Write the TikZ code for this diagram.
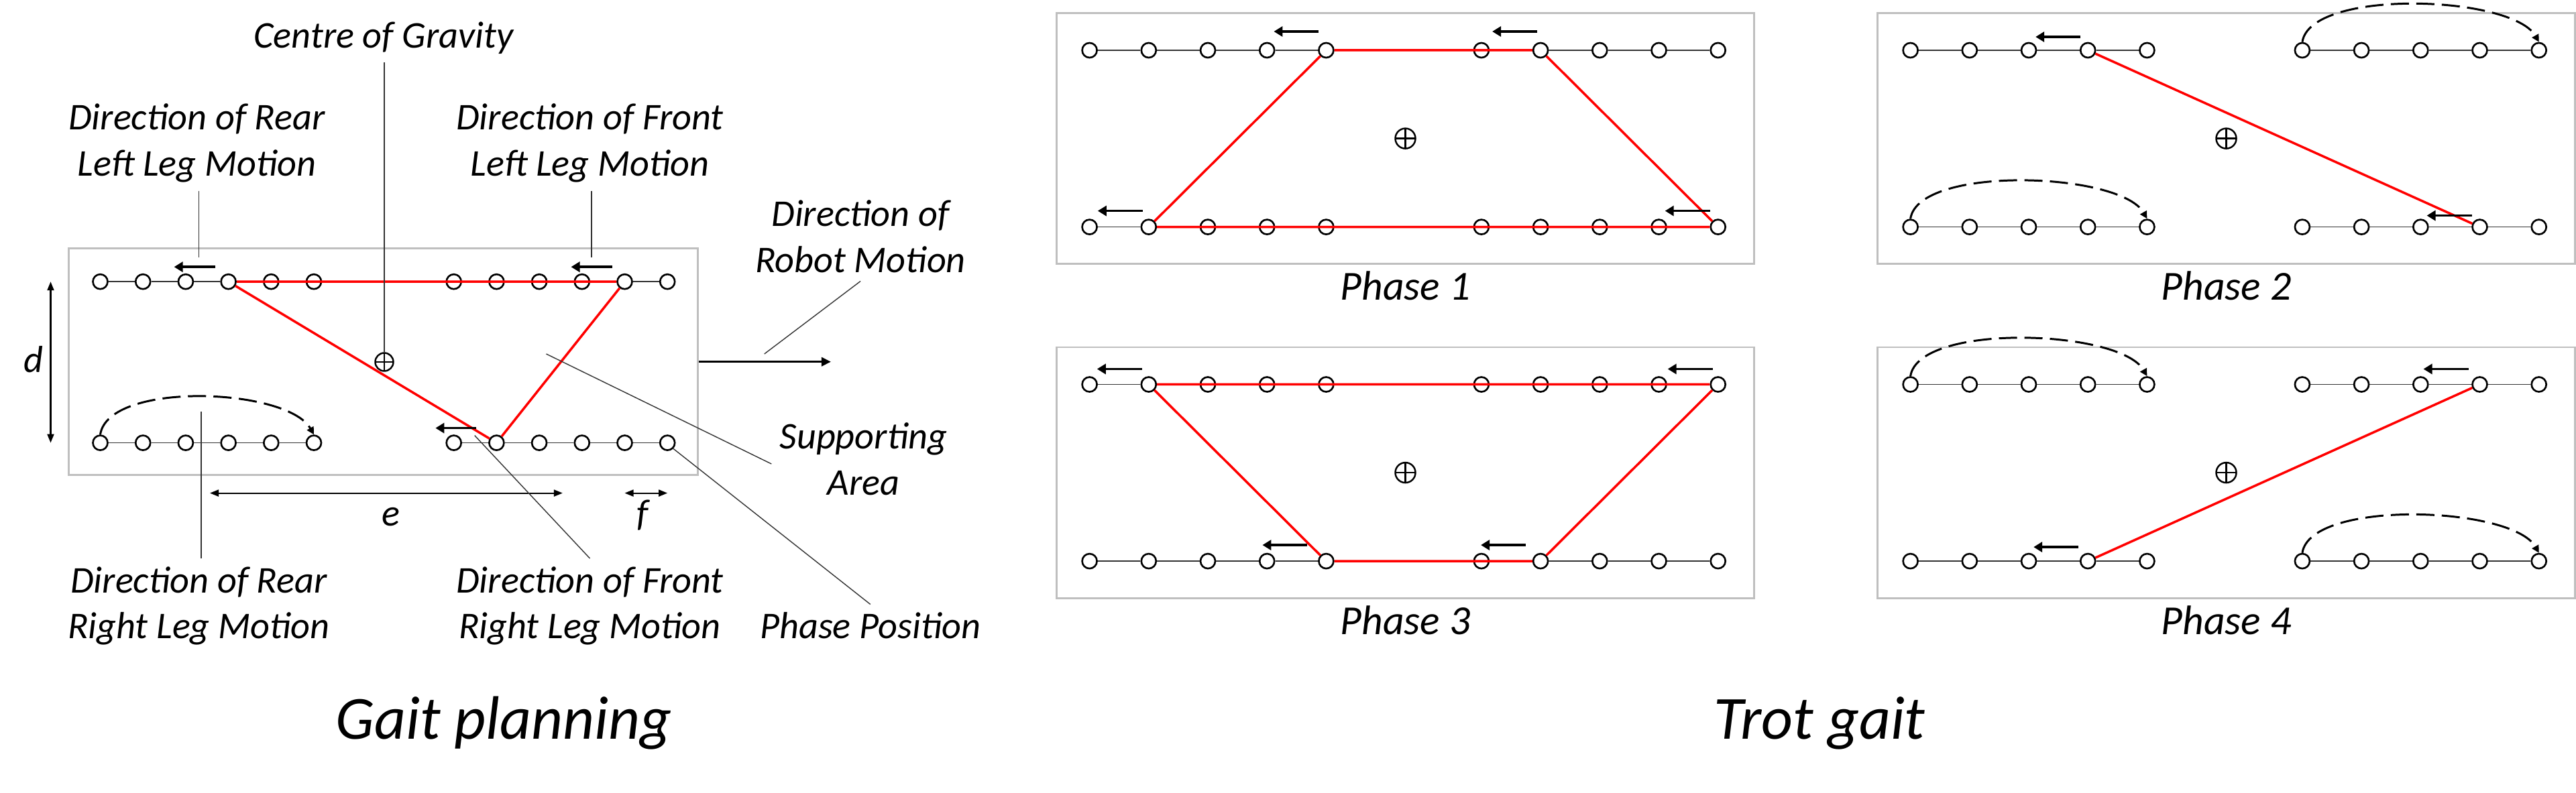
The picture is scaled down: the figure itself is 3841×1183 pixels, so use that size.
\documentclass[tikz,border=0pt]{standalone}
\usepackage{fontspec}
\setmainfont{Carlito}
\usepackage{xcolor}
\usetikzlibrary{arrows.meta,positioning}
\definecolor{boxgray}{RGB}{191,191,191}

\begin{document}
\begin{tikzpicture}[x=0.01cm, y=-0.01cm, font=\itshape,
  joint/.style={circle, draw, fill=white, line width=0.75pt, minimum size=2.2mm, inner sep=0pt},
  rowline/.style={draw=black!80, line width=0.45pt},
  support/.style={draw=red, line width=1pt},
  panel/.style={draw=boxgray, line width=0.8pt, inner sep=0pt},
  legmove/.style={-{Triangle[length=1.3mm,width=1.5mm]}, line width=1.05pt},
  swing/.style={dash pattern=on 2.7mm off 1.1mm, line width=0.85pt, -{Triangle[length=1.1mm,width=1.1mm]}},
  dimline/.style={{Triangle[length=1.3mm,width=1mm]}-{Triangle[length=1.3mm,width=1mm]}, line width=0.6pt},
  leader/.style={draw=black!80, line width=0.4pt},
  cog/.style={circle, draw, line width=0.7pt, minimum size=2.7mm, inner sep=0pt,
    path picture={\draw[line width=0.7pt] (path picture bounding box.north) -- (path picture bounding box.south)
      (path picture bounding box.west) -- (path picture bounding box.east);}},
  lbl/.style={font=\fontsize{16}{19.5}\selectfont\itshape, anchor=base},
  phlbl/.style={font=\fontsize{17.5}{21}\selectfont\itshape, anchor=base},
  headline/.style={font=\fontsize{26}{31}\selectfont\itshape, anchor=base}]
  \path[use as bounding box, fill=white] (0,0) rectangle (3841,1183);

  % gait planning
  \node[panel, minimum width=9.376cm, minimum height=3.382cm] (gp) at (571.5,539.7) {};
  \foreach \r/\y in {t/420.2,b/660.6}
    \foreach \s/\x in {L/149.5,R/676.7}{
      \foreach \i in {1,...,6}
        \node[joint] (gp\r\s\i) at ({\x+63.7*(\i-1)},\y) {};
      \foreach \i [count=\j from 2] in {1,...,5}
        \draw[rowline] (gp\r\s\i) -- (gp\r\s\j);
    }
  \draw[support] (gptL4) -- (gptR5) (gptL4) -- (gpbR2) (gpbR2) -- (gptR5);
  \node[cog] (cog0) at (573,540) {};
  \foreach \n/\dx in {gptL4/-20,gptR5/-19,gpbR2/-30}
    \draw[legmove] ([shift={(\dx,-22)}]\n.center) -- ++(-61,0);
  \draw[swing] (gpbL1.north) .. controls +(12,-80) and +(-40,-70) .. (gpbL6.north);
  \draw[-{Triangle[length=1.4mm,width=1.3mm]}, line width=0.95pt] (gp.east) -- ++(197,0);

  \coordinate (dpos) at (75.5,0);
  \coordinate (epos) at (0,735.6);
  \draw[dimline] (dpos |- gptL1) -- (dpos |- gpbL1);
  \draw[dimline] (313,735.6) -- (838.9,735.6);
  \draw[dimline] (gpbR5 |- epos) -- (gpbR6 |- epos);
  \node[lbl] (dl) at (50,555.6) {d};
  \node[lbl] (el) at (583,785) {e};
  \node[lbl] (fl) at (958.4,784.5) {f};

  \node[lbl] (cgl) at (572,71.4) {Centre of Gravity};
  \node[lbl] (rlu1) at (293.5,193.7) {Direction of Rear};
  \node[lbl] (rlu2) at (293.5,262.5) {Left Leg Motion};
  \node[lbl] (flu1) at (879.5,193.7) {Direction of Front};
  \node[lbl] (flu2) at (879.5,262.5) {Left Leg Motion};
  \node[lbl] (rm1) at (1283,337.4) {Direction of};
  \node[lbl] (rm2) at (1283,406.7) {Robot Motion};
  \node[lbl] (sa1) at (1287.5,670) {Supporting};
  \node[lbl] (sa2) at (1287.5,739) {Area};
  \node[lbl] (rrl1) at (296.5,884.3) {Direction of Rear};
  \node[lbl] (rrl2) at (296.5,953) {Right Leg Motion};
  \node[lbl] (frl1) at (879.5,884.3) {Direction of Front};
  \node[lbl] (frl2) at (879.5,953) {Right Leg Motion};
  \node[lbl] (pp) at (1297.7,953) {Phase Position};
  \node[headline] (gpt) at (751,1103) {Gait planning};

  \coordinate (rlu-end) at (296.6,384.4);
  \coordinate (flu-end) at (882,384.4);
  \coordinate (rm-end) at (1139.7,528);
  \coordinate (sa-end) at (814.5,528);
  \coordinate (frl-end) at (707.7,649.6);
  \coordinate (rrl-end) at (300,614);
  \draw[leader] (rlu2.south -| rlu-end) -- (rlu-end);
  \draw[leader] (flu2.south -| flu-end) -- (flu-end);
  \draw[leader] (cgl.south -| cog0) -- (cog0.north);
  \draw[leader] (rm2.south) -- (rm-end);
  \draw[leader] (sa1.south west) -- (sa-end);
  \draw[leader] (pp.north) -- (gpbR6.south east);
  \draw[leader] (frl1.north) -- (frl-end);
  \draw[leader] (rrl1.north -| rrl-end) -- (rrl-end);

  % trot gait
  \foreach \p/\dx/\dy in {1/0/0,2/1224/0,3/0/498.5,4/1224/498.5}{
    \begin{scope}[shift={(\dx,\dy)}]
      \node[panel, minimum width=10.39cm, minimum height=3.74cm] (p\p) at (2095.5,206.6) {};
      \node[cog, minimum size=3mm] (cog\p) at (p\p.center) {};
      \node[phlbl] (ph\p) at (2095.5,448) {Phase \p};
      \foreach \r/\y in {t/75,b/338.6}
        \foreach \s/\x in {L/1624.6,R/2208.9}{
          \foreach \i in {1,...,5}
            \node[joint] (p\p\r\s\i) at ({\x+88.2*(\i-1)},\y) {};
          \foreach \i [count=\j from 2] in {1,...,4}
            \draw[rowline] (p\p\r\s\i) -- (p\p\r\s\j);
        }
    \end{scope}
  }
  \draw[support] (p1tL5) -- (p1tR2) (p1tL5) -- (p1bL2) (p1tR2) -- (p1bR5) (p1bL2) -- (p1bR5);
  \draw[support] (p2tL4) -- (p2bR4);
  \draw[support] (p3tL2) -- (p3tR5) (p3tL2) -- (p3bL5) (p3tR5) -- (p3bR2) (p3bL5) -- (p3bR2);
  \draw[support] (p4tR4) -- (p4bL4);
  \foreach \n/\dx/\dy in {p1tL5/-11/-28,p1tR2/-5/-28,p1bL2/-9/-24,p1bR5/-12/-24,
      p2tL4/-11/-20,p2bR4/-12/-17,p3tL2/-10/-23,p3tR5/-8/-23,p3bL5/-28/-24,p3bR2/-22/-24,
      p4tR4/-17/-23,p4bL4/-14/-21}
    \draw[legmove] ([shift={(\dx,\dy)}]\n.center) -- ++(-67,0);
  \foreach \a/\b in {p2tR1/p2tR5,p2bL1/p2bL5,p4tL1/p4tL5,p4bR1/p4bR5}
    \draw[swing] (\a.north) .. controls +(12,-80) and +(-40,-70) .. (\b.north);
  \node[headline] (tgt) at (2713,1103) {Trot gait};
\end{tikzpicture}
\end{document}
